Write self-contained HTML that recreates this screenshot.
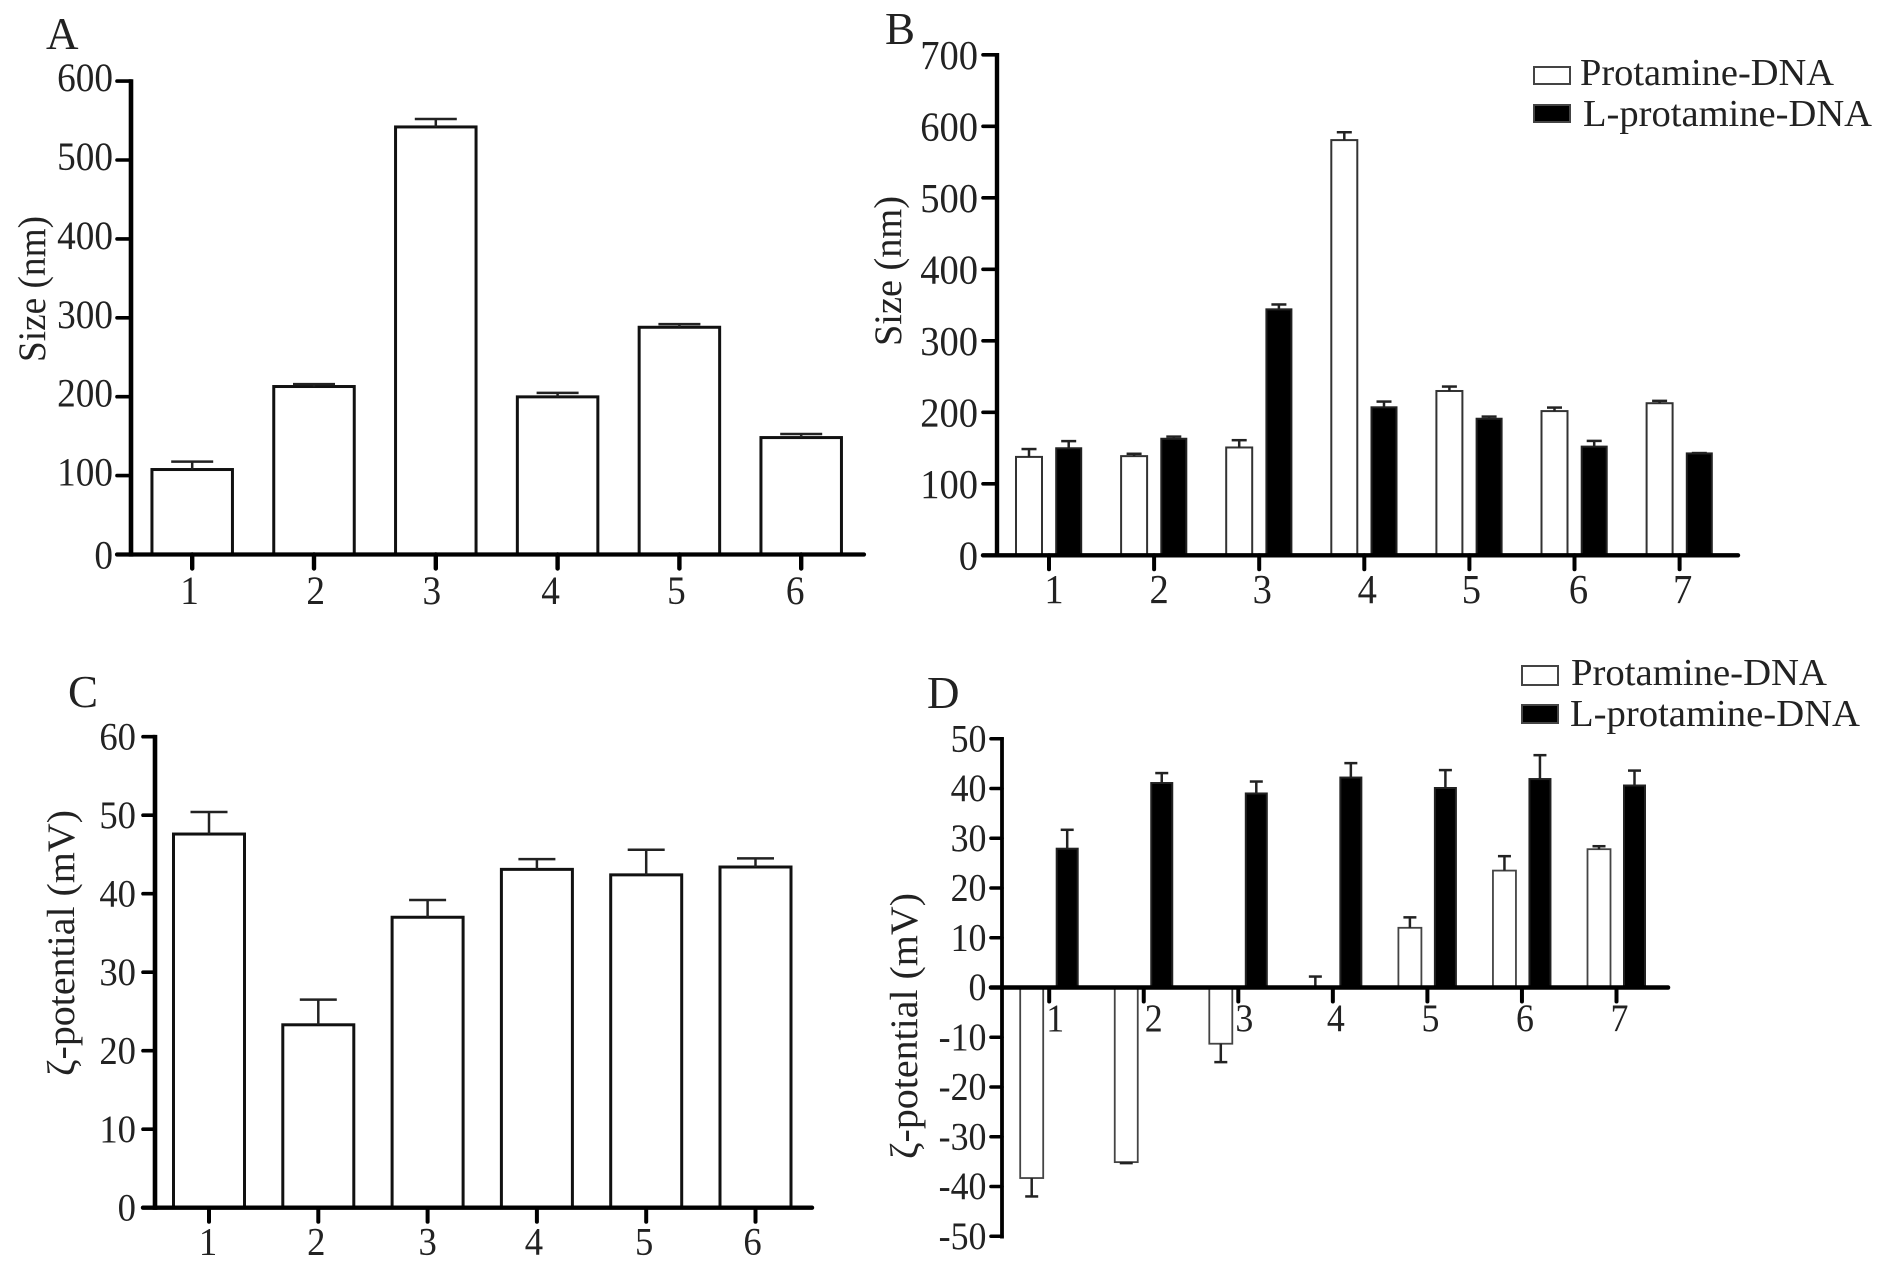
<!DOCTYPE html>
<html lang="en">
<head>
<meta charset="utf-8">
<title>Size and zeta potential of protamine-DNA complexes</title>
<style>
  html, body { margin: 0; padding: 0; background: #fff; }
  svg { display: block; }
  text { font-family: "Liberation Serif", "DejaVu Serif", serif; fill: #222; }
</style>
</head>
<body>
<svg id="figure" xmlns="http://www.w3.org/2000/svg" width="1890" height="1271" viewBox="0 0 1890 1271">
  <rect x="0" y="0" width="1890" height="1271" fill="#fff"/>

  <g id="panel-a">
    <text x="46" y="49" font-size="45">A</text>
    <text transform="translate(45,362) rotate(-90)" font-size="39" textLength="146" lengthAdjust="spacingAndGlyphs">Size (nm)</text>
  </g>

  <g id="panel-b">
    <text x="885" y="44" font-size="45">B</text>
    <text transform="translate(901,346) rotate(-90)" font-size="39" textLength="150" lengthAdjust="spacingAndGlyphs">Size (nm)</text>
    <g>
      <rect x="1534" y="67" width="36" height="17" fill="#fff" stroke="#444" stroke-width="2"/>
      <text x="1580" y="85" font-size="38" textLength="254" lengthAdjust="spacingAndGlyphs">Protamine-DNA</text>
      <rect x="1534" y="105" width="36" height="17" fill="#000" stroke="#444" stroke-width="2"/>
      <text x="1583" y="126" font-size="38" textLength="289" lengthAdjust="spacingAndGlyphs">L-protamine-DNA</text>
    </g>
  </g>

  <g id="panel-c">
    <text x="68" y="707" font-size="45">C</text>
    <text transform="translate(74,1076) rotate(-90)" font-size="39" textLength="266" lengthAdjust="spacingAndGlyphs">ζ-potential (mV)</text>
  </g>

  <g id="panel-d">
    <text x="927" y="708" font-size="45">D</text>
    <text transform="translate(917,1159) rotate(-90)" font-size="39" textLength="266" lengthAdjust="spacingAndGlyphs">ζ-potential (mV)</text>
    <g>
      <rect x="1522" y="666" width="36" height="19" fill="#fff" stroke="#444" stroke-width="2"/>
      <text x="1571" y="685" font-size="38" textLength="256" lengthAdjust="spacingAndGlyphs">Protamine-DNA</text>
      <rect x="1522" y="705" width="36" height="18" fill="#000" stroke="#444" stroke-width="2"/>
      <text x="1570" y="726" font-size="38" textLength="290" lengthAdjust="spacingAndGlyphs">L-protamine-DNA</text>
    </g>
  </g>
</svg>

<script>
// Panel A data
const categoriesA = ['1', '2', '3', '4', '5', '6'];
const yTicksA = [0, 100, 200, 300, 400, 500, 600];
const sizeA = [107.7, 212.9, 541.9, 199.8, 288, 148.2];
const sizeErrorA = [10, 3, 10, 5, 4, 4.6];

// Panel B data
const categoriesB = ['1', '2', '3', '4', '5', '6', '7'];
const yTicksB = [0, 100, 200, 300, 400, 500, 600, 700];
const protamineSizeB = [137.6, 138.7, 150.8, 580.7, 229.8, 201.7, 212.7];
const protamineErrorB = [11, 3.3, 10.2, 11, 6.2, 4.9, 3.3];
const lProtamineSizeB = [149.7, 163, 344, 207, 191, 152, 142.5];
const lProtamineErrorB = [10, 3, 6.8, 8, 3, 8, 0.5];

// Panel C data
const categoriesC = ['1', '2', '3', '4', '5', '6'];
const yTicksC = [0, 10, 20, 30, 40, 50, 60];
const zetaC = [47.6, 23.3, 37, 43.1, 42.4, 43.4];
const zetaErrorC = [2.8, 3.2, 2.2, 1.3, 3.2, 1.1];

// Panel D data
const categoriesD = ['1', '2', '3', '4', '5', '6', '7'];
const yTicksD = [-50, -40, -30, -20, -10, 0, 10, 20, 30, 40, 50];
const protamineZetaD = [-38.3, -35.1, -11.3, 0, 12, 23.5, 27.8];
const protamineErrorD = [3.7, 0.2, 3.7, 2.2, 2.1, 2.9, 0.6];
const lProtamineZetaD = [27.9, 41.1, 39, 42.2, 40.1, 41.9, 40.6];
const lProtamineErrorD = [3.8, 2, 2.4, 2.9, 3.6, 4.8, 3];

const SVG_NS = 'http://www.w3.org/2000/svg';

function shape(parent, tag, props) {
  const el = document.createElementNS(SVG_NS, tag);
  for (const k in props) el.setAttribute(k, props[k]);
  parent.appendChild(el);
  return el;
}

function drawSeries(g, series, xScale, yScale, categories) {
  series.values.forEach(function (value, i) {
    const cx = xScale(i) + series.offset;
    const y0 = yScale(0);
    const yv = yScale(value);
    const bar = shape(g, 'rect', {
      x: cx - series.barWidth / 2,
      y: Math.min(y0, yv),
      width: series.barWidth,
      height: Math.abs(y0 - yv),
      fill: series.fill,
      stroke: series.stroke,
      'stroke-width': series.strokeWidth
    });
    
    

    const dir = value < 0 ? -1 : 1;
    const yEnd = yScale(value + dir * series.errors[i]);
    const stem = shape(g, 'line', {
      x1: cx, x2: cx, y1: yv, y2: yEnd,
      stroke: '#222', 'stroke-width': series.errorWidth
    });
    
    

    const cap = shape(g, 'line', {
      x1: cx - series.capWidth / 2, x2: cx + series.capWidth / 2, y1: yEnd, y2: yEnd,
      stroke: '#222', 'stroke-width': series.errorWidth
    });
    
    
  });
}

function drawPanel(panelId, geom, categories, yTicks, seriesList) {
  const g = document.getElementById(panelId);
  const yScale = function (v) {
    return geom.yZero - (v / geom.yUnit) * geom.yStep;
  };
  const xScale = function (i) {
    return geom.xFirst + i * geom.xStep;
  };

  seriesList.forEach(function (series) {
    drawSeries(g, series, xScale, yScale, categories);
  });

  const yAxisTop = yScale(yTicks[yTicks.length - 1]);
  const yAxisBottom = yScale(yTicks[0]);

  const yAxis = shape(g, 'line', {
    x1: geom.xAxis, x2: geom.xAxis,
    y1: yAxisTop - geom.tickWidth / 2, y2: yAxisBottom + geom.xAxisWidth / 2,
    stroke: '#000', 'stroke-width': geom.yAxisWidth
  });
  
  

  const xAxis = shape(g, 'line', {
    x1: geom.tickLeft, x2: geom.xEnd,
    y1: geom.yZero, y2: geom.yZero,
    stroke: '#000', 'stroke-width': geom.xAxisWidth, 'stroke-linecap': 'round'
  });
  
  

  yTicks.forEach(function (t) {
    const y = yScale(t);
    const tick = shape(g, 'line', {
      x1: geom.tickLeft, x2: geom.xAxis, y1: y, y2: y,
      stroke: '#000', 'stroke-width': geom.tickWidth, 'stroke-linecap': 'round'
    });
    
    

    const dy = t === 0 ? geom.zeroLabelDy : geom.yLabelDy;
    const label = shape(g, 'text', {
      transform: 'translate(' + geom.yLabelRight + ',' + (y + dy) + ') scale(' + geom.textScaleX + ',1)',
      'text-anchor': 'end', 'font-size': geom.fontSize
    });
    label.textContent = String(t);
    
    
  });

  categories.forEach(function (c, i) {
    const x = xScale(i);
    const tick = shape(g, 'line', {
      x1: x, x2: x, y1: geom.yZero, y2: geom.yZero + geom.tickLength,
      stroke: '#000', 'stroke-width': geom.xTickWidth, 'stroke-linecap': 'round'
    });
    
    

    const label = shape(g, 'text', {
      transform: 'translate(' + (x + geom.xLabelNudge[i]) + ',' + geom.xLabelBaseline + ') scale(' + geom.textScaleX + ',1)',
      'text-anchor': 'middle', 'font-size': geom.fontSize
    });
    label.textContent = c;
    
    
  });
}

drawPanel('panel-a',
  { yZero: 554.5, yUnit: 100, yStep: 78.9, xFirst: 192.2, xStep: 121.8, xAxis: 131, xEnd: 864, tickLeft: 117,
    yAxisWidth: 4.6, xAxisWidth: 4.2, tickWidth: 3.6, xTickWidth: 4.4, tickLength: 14, yLabelRight: 113, yLabelDy: 10, zeroLabelDy: 14,
    xLabelNudge: [-2.6, 1.7, -4, -7, -3, -6], xLabelBaseline: 604, fontSize: 40.5, textScaleX: 0.92 },
  categoriesA, yTicksA,
  [{ name: 'size', values: sizeA, errors: sizeErrorA, offset: 0, barWidth: 80.5, fill: '#fff', stroke: '#111', strokeWidth: 3, errorWidth: 2.5, capWidth: 42 }]);

drawPanel('panel-b',
  { yZero: 555.3, yUnit: 100, yStep: 71.5, xFirst: 1049, xStep: 105.1, xAxis: 997, xEnd: 1738, tickLeft: 983,
    yAxisWidth: 4.4, xAxisWidth: 4.4, tickWidth: 3.6, xTickWidth: 4, tickLength: 14, yLabelRight: 978, yLabelDy: 14, zeroLabelDy: 14,
    xLabelNudge: [5, 5, 3, 3, 2, 4, 3], xLabelBaseline: 603, fontSize: 41, textScaleX: 0.94 },
  categoriesB, yTicksB,
  [{ name: 'protamine', values: protamineSizeB, errors: protamineErrorB, offset: -20, barWidth: 26, fill: '#fff', stroke: '#333', strokeWidth: 2, errorWidth: 2.5, capWidth: 15 },
   { name: 'l-protamine', values: lProtamineSizeB, errors: lProtamineErrorB, offset: 19.7, barWidth: 25, fill: '#000', stroke: '#222', strokeWidth: 2, errorWidth: 2.5, capWidth: 15 }]);

drawPanel('panel-c',
  { yZero: 1207.7, yUnit: 10, yStep: 78.5, xFirst: 209, xStep: 109.3, xAxis: 155, xEnd: 812, tickLeft: 143,
    yAxisWidth: 4.6, xAxisWidth: 4.4, tickWidth: 3.6, xTickWidth: 4, tickLength: 14, yLabelRight: 136, yLabelDy: 13, zeroLabelDy: 13,
    xLabelNudge: [-1, -2, 0, -3, -2, -3], xLabelBaseline: 1254.5, fontSize: 39, textScaleX: 0.94 },
  categoriesC, yTicksC,
  [{ name: 'zeta', values: zetaC, errors: zetaErrorC, offset: 0, barWidth: 71, fill: '#fff', stroke: '#111', strokeWidth: 3, errorWidth: 2.5, capWidth: 37 }]);

drawPanel('panel-d',
  { yZero: 987.5, yUnit: 10, yStep: 49.75, xFirst: 1049.2, xStep: 94.55, xAxis: 1002, xEnd: 1668, tickLeft: 991,
    yAxisWidth: 3.8, xAxisWidth: 4.6, tickWidth: 3.6, xTickWidth: 4, tickLength: 14, yLabelRight: 986.5, yLabelDy: 12.5, zeroLabelDy: 12.5,
    xLabelNudge: [6, 10, 6, 3, 3, 3, 3], xLabelBaseline: 1031, fontSize: 39, textScaleX: 0.92 },
  categoriesD, yTicksD,
  [{ name: 'protamine', values: protamineZetaD, errors: protamineErrorD, offset: -17.5, barWidth: 23, fill: '#fff', stroke: '#444', strokeWidth: 1.8, errorWidth: 2.5, capWidth: 13 },
   { name: 'l-protamine', values: lProtamineZetaD, errors: lProtamineErrorD, offset: 18, barWidth: 21, fill: '#000', stroke: '#222', strokeWidth: 2, errorWidth: 2.5, capWidth: 13 }]);
</script>
</body>
</html>
